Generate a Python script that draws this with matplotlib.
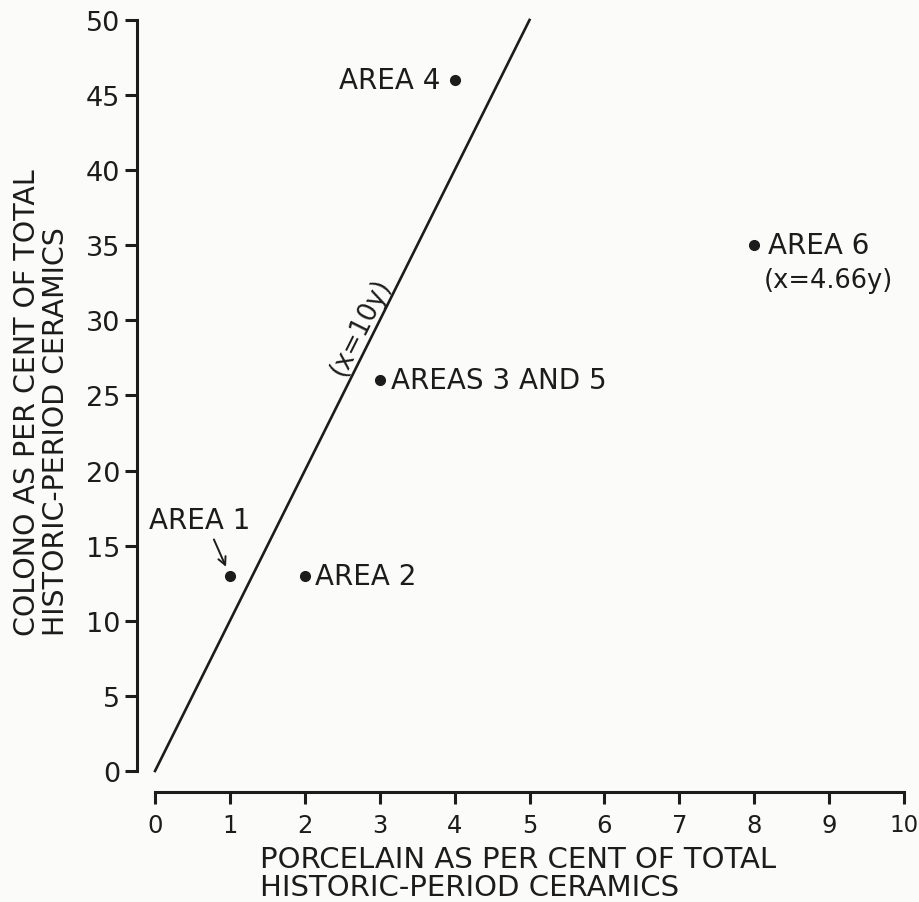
import matplotlib
matplotlib.use('Agg')
from matplotlib import pyplot as plt
import numpy as np

# data
porcelain = [1, 2, 3, 4, 8]
colono = [13, 13, 26, 46, 35]
area_names = ['AREA 1', 'AREA 2', 'AREAS 3 AND 5', 'AREA 4', 'AREA 6']
ratio_line_x = [0, 5]
ratio_line_y = [0, 50]
x_ticks = list(range(0, 11))
y_ticks = list(range(0, 51, 5))

ink = '#1c1c1c'
paper = '#fbfbf9'

plt.rcParams['font.family'] = ['DejaVu Sans']
plt.rcParams['text.color'] = ink

fig = plt.figure(figsize=(9.19, 9.03), dpi=100, facecolor=paper)
ax = fig.add_axes([0.1687, 0.1451, 0.8150, 0.8317])
ax.set_facecolor(paper)

ax.plot(ratio_line_x, ratio_line_y, '-', color=ink, lw=1.9, clip_on=False)
ax.plot(porcelain, colono, 'o', color=ink, ms=7, clip_on=False)

ax.set_xlim(0, 10)
ax.set_ylim(0, 50)
ax.set_xticks(x_ticks)
ax.set_yticks(y_ticks)

for side in ['top', 'right']:
    ax.spines[side].set_visible(False)
ax.spines['left'].set_position(('outward', 13))
ax.spines['bottom'].set_position(('outward', 15))
ax.spines['left'].set_bounds(0, 50)
ax.spines['bottom'].set_bounds(0, 10)
for side in ['left', 'bottom']:
    ax.spines[side].set_linewidth(2.2)
    ax.spines[side].set_color(ink)

ax.tick_params(axis='both', direction='out', length=8.5, width=2.2,
               color=ink, labelcolor=ink, labelsize=19.5)
ax.tick_params(axis='y', pad=3.5)
ax.tick_params(axis='x', pad=7, labelsize=17.5)
# the "10" at the far right sits right at the page edge in the original
ax.get_xticklabels()[-1].set_fontsize(16.5)

ax.set_xlabel('PORCELAIN AS PER CENT OF TOTAL\nHISTORIC-PERIOD CERAMICS',
              fontsize=21, ha='left', va='top', multialignment='left',
              linespacing=0.98, color=ink)
ax.xaxis.set_label_coords(0.140, -0.099)

ax.set_ylabel('COLONO AS PER CENT OF TOTAL\nHISTORIC-PERIOD CERAMICS',
              fontsize=20.5, ha='center', va='bottom', multialignment='left',
              rotation_mode='default', linespacing=1.08, color=ink)
ax.yaxis.set_label_coords(-0.1515, 0.181)

lab = dict(fontsize=20, va='center', textcoords='offset points')

ax.annotate(area_names[0], xy=(porcelain[0], colono[0]), xytext=(-22, 40),
            ha='center', arrowprops=dict(arrowstyle='->', color=ink, lw=1.4,
                                         relpos=(0.62, 0.0), shrinkA=2,
                                         shrinkB=7, mutation_scale=14), **lab)
ax.annotate(area_names[1], xy=(porcelain[1], colono[1]), xytext=(7, 0),
            ha='left', **lab)
ax.annotate(area_names[2], xy=(porcelain[2], colono[2]), xytext=(8, 0),
            ha='left', **lab)
ax.annotate(area_names[3], xy=(porcelain[3], colono[3]), xytext=(-10, 0),
            ha='right', **lab)
ax.annotate(area_names[4], xy=(porcelain[4], colono[4]), xytext=(10, 0),
            ha='left', **lab)
ax.annotate('(x=4.66y)', xy=(porcelain[4], colono[4]), xytext=(7, -25),
            ha='left', fontsize=18.5, va='center', textcoords='offset points')

# label along the x=10y line, left of it
ax.text(2.74, 29.6, '(x=10y)', fontsize=18.5, ha='center', va='center',
        rotation=np.degrees(np.arctan2(10, 1)), transform_rotates_text=True,
        rotation_mode='anchor', color=ink)

plt.savefig('out.png', dpi=100, facecolor=paper)
